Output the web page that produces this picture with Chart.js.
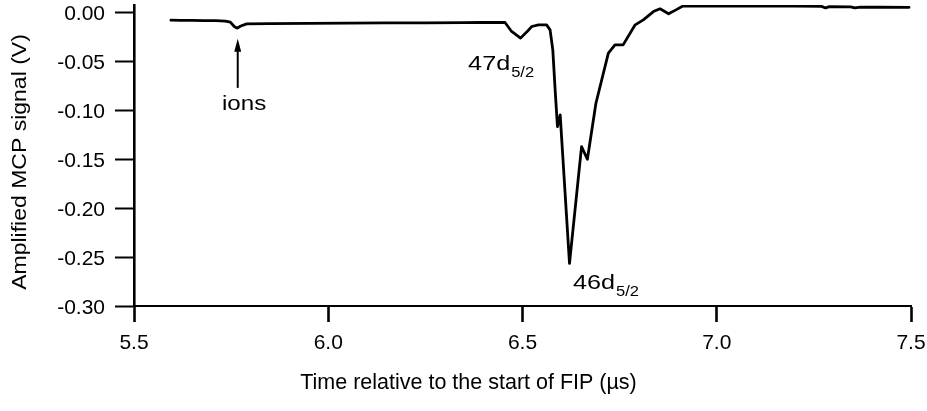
<!DOCTYPE html>
<html>
<head>
<meta charset="utf-8">
<script src="https://cdn.jsdelivr.net/npm/chart.js@4"></script>
<style>
  html, body { margin: 0; padding: 0; background: #fff; }
  #wrap { width: 927px; height: 411px; position: relative; }
</style>
</head>
<body>
<div id="wrap"><canvas id="trace"></canvas></div>
<script>
// trace: time (us) and amplified MCP signal (V)
const timeUs = [
    5.595, 5.620, 5.650, 5.680, 5.710, 5.735, 5.748, 5.758, 5.765, 5.775,
    5.790, 5.850, 5.950, 6.050, 6.150, 6.250, 6.350, 6.391, 6.455, 6.472,
    6.495, 6.510, 6.524, 6.541, 6.562, 6.571, 6.578, 6.584, 6.590, 6.597,
    6.621, 6.652, 6.667, 6.689, 6.721, 6.738, 6.759, 6.790, 6.811, 6.837,
    6.854, 6.876, 6.895, 6.914, 7.000, 7.100, 7.200, 7.270, 7.280, 7.290,
    7.345, 7.355, 7.370, 7.420, 7.495
];
const signalV = [
    -0.0075, -0.0078, -0.0077, -0.0080, -0.0080, -0.0085, -0.0095, -0.0140, -0.0157, -0.0135,
    -0.0113, -0.0110, -0.0108, -0.0105, -0.0103, -0.0102, -0.0100, -0.0099, -0.0099, -0.0191,
    -0.0259, -0.0200, -0.0140, -0.0123, -0.0123, -0.0174, -0.0379, -0.0788, -0.1164, -0.1044,
    -0.2563, -0.1369, -0.1498, -0.0925, -0.0413, -0.0328, -0.0328, -0.0123, -0.0072, 0.0013,
    0.0041, -0.0010, 0.0030, 0.0072, 0.0070, 0.0069, 0.0068, 0.0066, 0.0050, 0.0063,
    0.0060, 0.0050, 0.0058, 0.0057, 0.0056
];

const xTicks = [5.5, 6.0, 6.5, 7.0, 7.5];
const xTickLabels = ['5.5', '6.0', '6.5', '7.0', '7.5'];
const yTicks = [0, -0.05, -0.10, -0.15, -0.20, -0.25, -0.30];
const yTickLabels = ['0.00', '-0.05', '-0.10', '-0.15', '-0.20', '-0.25', '-0.30'];

const xTitle = 'Time relative to the start of FIP (\u00b5s)';
const yTitle = 'Amplified MCP signal (V)';

// peak labels: [main text, subscript, time, signal] (anchor = left end of baseline)
const peakLabels = [
    ['47d', '5/2', 6.360, -0.0584],
    ['46d', '5/2', 6.630, -0.2825]
];
const ionLabel = ['ions', 5.7265, -0.0993];
const ionArrow = [5.767, -0.0768, -0.0266]; // time, tail, tip

const FONT = "'Liberation Sans', Arial, Helvetica, sans-serif";

// some text in the picture is wider than Arial, so it can be stretched along its run
function stretchText(ctx, str, x, y, size, sx, align) {
    ctx.font = size + 'px ' + FONT;
    const w = ctx.measureText(str).width * sx;
    let left = x;
    if (align === 'center') left = x - w / 2;
    else if (align === 'right') left = x - w;
    ctx.save();
    ctx.translate(left, y);
    ctx.scale(sx, 1);
    ctx.fillText(str, 0, 0);
    ctx.restore();
    return w;
}

const textPlugin = {
    id: 'textPlugin',
    afterDraw(chart) {
        const ctx = chart.ctx;
        const xs = chart.scales.x;
        const ys = chart.scales.y;
        const area = chart.chartArea;
        ctx.save();
        ctx.fillStyle = '#000';
        ctx.strokeStyle = '#000';
        ctx.textAlign = 'left';
        ctx.textBaseline = 'alphabetic';

        // tick labels
        yTicks.forEach((v, i) => {
            stretchText(ctx, yTickLabels[i], area.left - 29, ys.getPixelForValue(v) + 7.5, 21, 1.0, 'right');
        });
        xTicks.forEach((v, i) => {
            stretchText(ctx, xTickLabels[i], xs.getPixelForValue(v), area.bottom + 43, 21, 1.0, 'center');
        });

        // axis titles (x title sits at the middle of the figure)
        stretchText(ctx, xTitle, chart.width / 2 + 5, area.bottom + 83, 21.5, 1.0, 'center');
        ctx.save();
        ctx.translate(26, 162);
        ctx.rotate(-Math.PI / 2);
        stretchText(ctx, yTitle, 0, 0, 20, 1.15, 'center');
        ctx.restore();

        // peak labels with subscripts
        peakLabels.forEach(p => {
            const px = xs.getPixelForValue(p[2]);
            const py = ys.getPixelForValue(p[3]);
            const w = stretchText(ctx, p[0], px, py, 21, 1.2, 'left');
            stretchText(ctx, p[1], px + w + 1, py + 7, 14, 1.18, 'left');
        });

        // ions arrow + label
        const ax = xs.getPixelForValue(ionArrow[0]);
        const tail = ys.getPixelForValue(ionArrow[1]);
        const tip = ys.getPixelForValue(ionArrow[2]);
        ctx.lineWidth = 2;
        ctx.beginPath();
        ctx.moveTo(ax, tail);
        ctx.lineTo(ax, tip + 10);
        ctx.stroke();
        ctx.beginPath();
        ctx.moveTo(ax, tip);
        ctx.lineTo(ax - 3.5, tip + 13);
        ctx.lineTo(ax + 3.5, tip + 13);
        ctx.closePath();
        ctx.fill();
        stretchText(ctx, ionLabel[0], xs.getPixelForValue(ionLabel[1]), ys.getPixelForValue(ionLabel[2]), 21, 1.15, 'left');

        ctx.restore();
    }
};

const points = timeUs.map((t, i) => ({ x: t, y: signalV[i] }));

new Chart(document.getElementById('trace'), {
    type: 'line',
    data: {
        datasets: [{
            data: points,
            borderColor: '#000',
            borderWidth: 2.8,
            pointRadius: 0,
            tension: 0,
            borderJoinStyle: 'round',
            borderCapStyle: 'round',
            fill: false
        }]
    },
    options: {
        responsive: true,
        maintainAspectRatio: false,
        animation: false,
        layout: { padding: { top: 5, right: 16, bottom: 0, left: 0 } },
        plugins: {
            legend: { display: false },
            tooltip: { enabled: false }
        },
        scales: {
            x: {
                type: 'linear',
                min: 5.5,
                max: 7.5,
                afterBuildTicks: s => { s.ticks = xTicks.map(v => ({ value: v })); },
                afterFit: s => { s.height = 105; s.paddingLeft = 0; s.paddingRight = 0; },
                ticks: { display: false },
                grid: { drawOnChartArea: false, drawTicks: true, tickLength: 16, tickWidth: 2.6, tickColor: '#000' },
                border: { display: true, color: '#000', width: 2 }
            },
            y: {
                min: -0.30,
                max: 0.008,
                afterBuildTicks: s => { s.ticks = yTicks.map(v => ({ value: v })); },
                afterFit: s => { s.width = 134; s.paddingTop = 0; s.paddingBottom = 0; },
                ticks: { display: false },
                grid: { drawOnChartArea: false, drawTicks: true, tickLength: 19, tickWidth: 2, tickColor: '#000' },
                border: { display: true, color: '#000', width: 2.6 }
            }
        }
    },
    plugins: [textPlugin]
});
</script>
</body>
</html>
